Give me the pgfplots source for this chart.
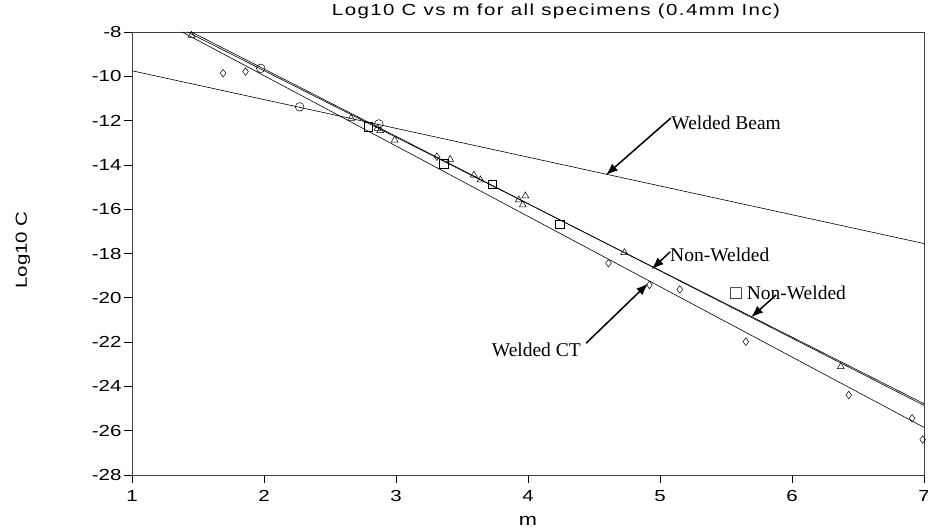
\documentclass[border=0pt]{standalone}
\usepackage{pgfplots}
\pgfplotsset{compat=1.18}
\usepackage{fontspec}
\setmainfont{Liberation Serif}
\setsansfont{Liberation Sans}[FakeStretch=1.28]
\usetikzlibrary{arrows.meta}
\begin{document}
\begin{tikzpicture}
\path[use as bounding box] (0,0) rectangle (928pt,532pt);
\begin{axis}[
  at={(132pt,57pt)}, anchor=south west,
  scale only axis, width=792pt, height=443pt,
  xmin=1, xmax=7, ymin=-28, ymax=-8,
  xtick={1,2,3,4,5,6,7}, ytick={-28,-26,-24,-22,-20,-18,-16,-14,-12,-10,-8},
  tick align=outside, major tick length=8pt,
  xtick pos=bottom, ytick pos=left,
  tick style={black, line width=0.7pt},
  axis line style={line width=0.8pt, black!75},
  ticklabel style={font=\sffamily\fontsize{16}{16}\selectfont},
  yticklabel style={xshift=1pt},
  xticklabel style={yshift=-4pt},
  /pgf/number format/assume math mode=true,
  clip=true,
]
% fitted lines
\addplot[black, line width=0.6pt] coordinates {(1,-9.75) (7,-17.55)};
\addplot[black, line width=0.6pt] coordinates {(1.42,-8) (7,-24.78)};
\addplot[black, line width=0.6pt] coordinates {(1.45,-8) (7,-24.86)};
\addplot[black, line width=0.6pt] coordinates {(1.38,-8) (7,-25.85)};
% Non-Welded (triangles)
\addplot[only marks, mark=triangle, mark size=4pt, black, line width=0.5pt] coordinates {
 (1.45,-8.15) (2.66,-11.9) (2.86,-12.35) (2.88,-12.45) (2.99,-12.88) (3.41,-13.75)
 (3.59,-14.46) (3.64,-14.68) (3.93,-15.58) (3.98,-15.40) (3.96,-15.81) (4.73,-17.96) (6.37,-23.11)};
% Non-Welded (squares)
\addplot[only marks, mark=square, mark size=4.3pt, black, line width=0.5pt] coordinates {
 (2.79,-12.27) (3.36,-13.96) (3.73,-14.88) (4.24,-16.68)};
% Welded CT (diamonds)
\addplot[only marks, mark=diamond, mark size=3.8pt, black, line width=0.5pt] coordinates {
 (1.69,-9.86) (1.86,-9.79) (3.31,-13.63) (4.61,-18.44) (4.92,-19.42) (5.15,-19.62)
 (5.65,-21.98) (6.43,-24.39) (6.91,-25.44) (6.99,-26.4)};
% Welded Beam (circles)
\addplot[only marks, mark=o, mark size=4.3pt, black, line width=0.5pt] coordinates {
 (1.975,-9.64) (2.27,-11.38) (2.87,-12.15)};
% annotations
\node[anchor=west, inner sep=0pt, font=\fontsize{19.5}{20}\selectfont] at (axis cs:5.085,-12.11) {Welded Beam};
\node[anchor=west, inner sep=0pt, font=\fontsize{19.5}{20}\selectfont] at (axis cs:5.076,-18.07) {Non-Welded};
\node[anchor=west, inner sep=0pt, font=\fontsize{19.5}{20}\selectfont] at (axis cs:5.53,-19.78) {□ Non-Welded};
\node[anchor=west, inner sep=0pt, font=\fontsize{19.5}{20}\selectfont] at (axis cs:3.725,-22.36) {Welded CT};
\draw[-{Latex[length=12pt,width=9pt]}, line width=1.5pt] (axis cs:5.083,-11.88) -- (axis cs:4.59,-14.46);
\draw[-{Latex[length=12pt,width=9pt]}, line width=1.5pt] (axis cs:5.076,-17.93) -- (axis cs:4.937,-18.71);
\draw[-{Latex[length=12pt,width=9pt]}, line width=1.5pt] (axis cs:5.88,-19.87) -- (axis cs:5.69,-20.88);
\draw[-{Latex[length=12pt,width=9pt]}, line width=1.5pt] (axis cs:4.44,-22.05) -- (axis cs:4.91,-19.35);
\end{axis}
\node[font=\sffamily\fontsize{16}{16}\selectfont\addfontfeatures{LetterSpace=9}] at (556pt,521pt) {Log10 C vs m for all specimens (0.4mm Inc)};
\node[rotate=90, font=\sffamily\fontsize{16}{16}\selectfont] at (23pt,282pt) {Log10 C};
\node[font=\sffamily\fontsize{17}{17}\selectfont] at (528pt,11pt) {m};
\end{tikzpicture}
\end{document}
